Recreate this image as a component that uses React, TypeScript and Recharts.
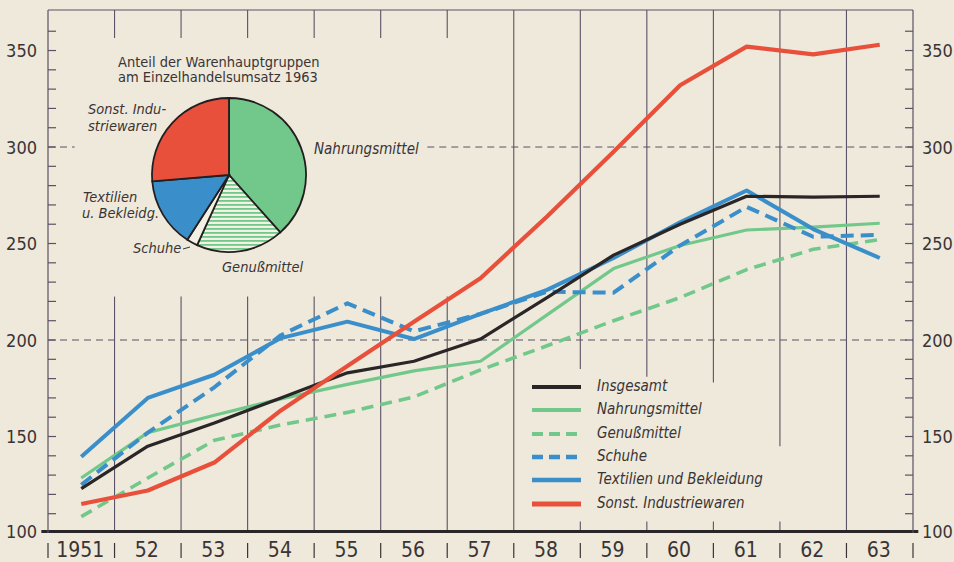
import { LineChart, Line, XAxis, YAxis, ReferenceLine, PieChart, Pie, Cell } from 'recharts'

// Einzelhandelsumsatz nach Warenhauptgruppen, 1950 = 100
const years = [1951, 1952, 1953, 1954, 1955, 1956, 1957, 1958, 1959, 1960, 1961, 1962, 1963]
const insgesamt = [123, 145, 157, 170, 183, 189, 200.5, 222, 244, 260, 274.5, 274, 274.5]
const nahrungsmittel = [128.5, 152, 161, 169.5, 177, 184, 189, 213, 237, 249, 257, 258.5, 260.5]
const genussmittel = [108.5, 128.5, 148, 156, 162.5, 170.5, 184.5, 197, 210, 222, 236.5, 247, 252]
const schuhe = [125, 152, 175.5, 202.5, 219, 204.5, 213.5, 225, 224.5, 249, 269, 253.5, 254.5]
const textilien = [139.5, 170, 182, 201, 209.5, 200.5, 213.5, 226, 242.5, 261, 277.5, 257.5, 242.5]
const sonstige = [115, 122, 136.5, 163.5, 186.5, 209.5, 232, 264, 297.5, 332, 352, 348, 353]

// Anteil am Einzelhandelsumsatz 1963 (%)
const pieGroups = ['Nahrungsmittel', 'Genußmittel', 'Schuhe', 'Textilien u. Bekleidg.', 'Sonst. Industriewaren']
const pieShares = [38.4, 18.4, 2.3, 14.6, 26.3]

const yTicks = [100, 110, 120, 130, 140, 150, 160, 170, 180, 190, 200, 210, 220, 230, 240, 250, 260, 270, 280, 290, 300, 310, 320, 330, 340, 350, 360]
const yLabels = [100, 150, 200, 250, 300, 350]
const xTicks = [1950.5, 1951, 1951.5, 1952, 1952.5, 1953, 1953.5, 1954, 1954.5, 1955, 1955.5, 1956, 1956.5, 1957, 1957.5, 1958, 1958.5, 1959, 1959.5, 1960, 1960.5, 1961, 1961.5, 1962, 1962.5, 1963, 1963.5]

const W = 954
const H = 562
const BG = '#eee9da'
const INK = '#3a3436'
const GRID = '#5a5266'
const RED = '#e9503b'
const GREEN = '#72c88a'
const BLUE = '#3a8fcb'
const BLACK = '#2a2526'
const NUM_FONT = "'Liberation Sans Narrow', 'DejaVu Sans Condensed', sans-serif"
const TXT_FONT = "'DejaVu Sans Condensed', 'DejaVu Sans', sans-serif"

const rows = years.map((year, i) => ({
  year,
  insgesamt: insgesamt[i],
  nahrungsmittel: nahrungsmittel[i],
  genussmittel: genussmittel[i],
  schuhe: schuhe[i],
  textilien: textilien[i],
  sonstige: sonstige[i],
}))

const SERIES = [
  { key: 'genussmittel', name: 'Genußmittel', color: GREEN, width: 3.6, dash: '12 7', order: 2 },
  { key: 'nahrungsmittel', name: 'Nahrungsmittel', color: GREEN, width: 3.2, dash: undefined, order: 1 },
  { key: 'schuhe', name: 'Schuhe', color: BLUE, width: 4, dash: '13 7', order: 3 },
  { key: 'textilien', name: 'Textilien und Bekleidung', color: BLUE, width: 4, dash: undefined, order: 4 },
  { key: 'insgesamt', name: 'Insgesamt', color: BLACK, width: 3.2, dash: undefined, order: 0 },
  { key: 'sonstige', name: 'Sonst. Industriewaren', color: RED, width: 4.2, dash: undefined, order: 5 },
]

// vertical year separators, broken where the inset and legend sit
const V_GRID: { x: number; spans: [number, number][] }[] = [
  { x: 1951.5, spans: [[100, 222.5], [356.5, 371]] },
  { x: 1952.5, spans: [[100, 222.5], [356.5, 371]] },
  { x: 1953.5, spans: [[100, 222.5], [356.5, 371]] },
  { x: 1954.5, spans: [[100, 222.5], [356.5, 371]] },
  { x: 1955.5, spans: [[100, 222.5], [356.5, 371]] },
  { x: 1956.5, spans: [[100, 222.5], [356.5, 371]] },
  { x: 1957.5, spans: [[100, 371]] },
  { x: 1958.5, spans: [[100, 106], [185, 371]] },
  { x: 1959.5, spans: [[100, 106], [181, 371]] },
  { x: 1960.5, spans: [[100, 106], [178, 371]] },
  { x: 1961.5, spans: [[100, 106], [145, 371]] },
  { x: 1962.5, spans: [[100, 371]] },
]

function XTick({ x, y, payload }: any) {
  const v = payload.value as number
  if (v % 1 !== 0) {
    return <line x1={x} x2={x} y1={y + 10} y2={y + 25} stroke={INK} strokeWidth={1.2} />
  }
  return (
    <text x={x - 1} y={y + 17} textAnchor="middle" dominantBaseline="central"
      fontFamily={NUM_FONT} fontSize={21} fill={INK}>
      {v === 1951 ? '1951' : String(v).slice(2)}
    </text>
  )
}

function LeftTick({ x, y, payload }: any) {
  const v = payload.value as number
  return (
    <g>
      {v > 100 && <line x1={x} x2={x + 8} y1={y} y2={y} stroke={GRID} strokeWidth={1.2} />}
      {yLabels.includes(v) && (
        <text x={x - 11} y={y - (v === 100 ? 2 : 0)} textAnchor="end" dominantBaseline="central"
          fontFamily={NUM_FONT} fontSize={18} fill={INK}>{v}</text>
      )}
    </g>
  )
}

function RightTick({ x, y, payload }: any) {
  const v = payload.value as number
  return (
    <g>
      {v > 100 && <line x1={x - 8} x2={x} y1={y} y2={y} stroke={GRID} strokeWidth={1.2} />}
      {yLabels.includes(v) && (
        <text x={x + 9} y={y - (v === 100 ? 2 : 0)} textAnchor="start" dominantBaseline="central"
          fontFamily={NUM_FONT} fontSize={18} fill={INK}>{v}</text>
      )}
    </g>
  )
}

const pieRows = pieGroups.map((name, i) => ({ name, share: pieShares[i] }))
const PIE_FILLS = [GREEN, 'url(#genuss-stripes)', '#f3f0e4', BLUE, RED]

const label = (left: number, top: number, text: string, italic = true, size = 14.5) => (
  <div key={text + left} style={{
    position: 'absolute', left, top, fontFamily: TXT_FONT, fontSize: size,
    fontStyle: italic ? 'italic' : 'normal', color: INK, lineHeight: '16px', whiteSpace: 'nowrap',
  }}>{text}</div>
)

const LEGEND_TOP = [378, 401, 425, 448, 471, 495]

export default function App() {
  const legendSeries = [...SERIES].sort((a, b) => a.order - b.order)
  return (
    <div style={{ position: 'absolute', left: 0, top: 0, width: W, height: H, background: BG, overflow: 'hidden' }}>
      <LineChart width={W} height={H} data={rows} margin={{ top: 10, right: 0, bottom: 0, left: 8 }}>
        <XAxis dataKey="year" type="number" domain={[1950.5, 1963.5]} ticks={xTicks} interval={0}
          height={29} tickSize={0} tickMargin={0} axisLine={false} tickLine={false} tick={XTick} allowDataOverflow />
        <YAxis domain={[100, 371]} ticks={yTicks} interval={0} width={40} tickSize={0} tickMargin={0}
          axisLine={{ stroke: GRID, strokeWidth: 1.2 }} tickLine={false} tick={LeftTick} allowDataOverflow />
        <YAxis yAxisId="r" orientation="right" domain={[100, 371]} ticks={yTicks} interval={0} width={41}
          tickSize={0} tickMargin={0} axisLine={{ stroke: GRID, strokeWidth: 1.2 }} tickLine={false}
          tick={RightTick} allowDataOverflow />

        <ReferenceLine y={371} stroke={GRID} strokeWidth={1.2} />
        <ReferenceLine y={200} stroke={GRID} strokeWidth={1} strokeDasharray="7 5" />
        <ReferenceLine segment={[{ x: 1950.5, y: 300 }, { x: 1950.9, y: 300 }]} stroke={GRID} strokeWidth={1} strokeDasharray="7 5" />
        <ReferenceLine segment={[{ x: 1956.2, y: 300 }, { x: 1963.5, y: 300 }]} stroke={GRID} strokeWidth={1} strokeDasharray="7 5" />
        {V_GRID.flatMap((g) =>
          g.spans.map(([a, b], j) => (
            <ReferenceLine key={`${g.x}-${j}`} segment={[{ x: g.x, y: a }, { x: g.x, y: b }]}
              stroke={GRID} strokeWidth={1.1} />
          ))
        )}

        {SERIES.map((s) => (
          <Line key={s.key} dataKey={s.key} name={s.name} stroke={s.color} strokeWidth={s.width}
            strokeDasharray={s.dash} dot={false} activeDot={false} isAnimationActive={false}
            strokeLinejoin="round" type="linear" />
        ))}

        <ReferenceLine segment={[{ x: 1950.4, y: 100.8 }, { x: 1963.58, y: 100.8 }]} ifOverflow="visible"
          stroke={BLACK} strokeWidth={3} />
      </LineChart>

      <div style={{ position: 'absolute', left: 0, top: 0, width: W, height: H, pointerEvents: 'none' }}>
        <PieChart width={W} height={H} margin={{ top: 0, right: 0, bottom: 0, left: 0 }}>
          <defs>
            <pattern id="genuss-stripes" width="6" height="4" patternUnits="userSpaceOnUse">
              <rect width="6" height="4" fill="#f3f0e4" />
              <rect y="0" width="6" height="1.8" fill={GREEN} />
            </pattern>
          </defs>
          <Pie data={pieRows} dataKey="share" nameKey="name" cx={229} cy={175} outerRadius={77}
            startAngle={90} endAngle={-270} stroke="#231f20" strokeWidth={1.8} isAnimationActive={false}>
            {pieRows.map((r, i) => <Cell key={r.name} fill={PIE_FILLS[i]} />)}
          </Pie>
        </PieChart>
      </div>

      {label(118, 54, 'Anteil der Warenhauptgruppen', false, 14.5)}
      {label(118, 69, 'am Einzelhandelsumsatz 1963', false, 14.5)}
      {label(88, 101, 'Sonst. Indu-')}
      {label(88, 118, 'striewaren')}
      {label(314, 141, 'Nahrungsmittel', true, 15)}
      {label(83, 189, 'Textilien')}
      {label(82, 205, 'u. Bekleidg.')}
      {label(133, 240, 'Schuhe')}
      {label(222, 259, 'Genußmittel')}
      <svg style={{ position: 'absolute', left: 0, top: 0 }} width={W} height={H} pointerEvents="none">
        <line x1={183} y1={249} x2={190} y2={247} stroke={INK} strokeWidth={1} />
        {legendSeries.map((s, i) => (
          <line key={s.key} x1={532} x2={581} y1={LEGEND_TOP[i] + 9} y2={LEGEND_TOP[i] + 9}
            stroke={s.color} strokeWidth={s.width + 0.6} strokeDasharray={s.dash ? '11 6' : undefined} />
        ))}
      </svg>
      {legendSeries.map((s, i) => label(597, LEGEND_TOP[i], s.name, true, 15))}
    </div>
  )
}
